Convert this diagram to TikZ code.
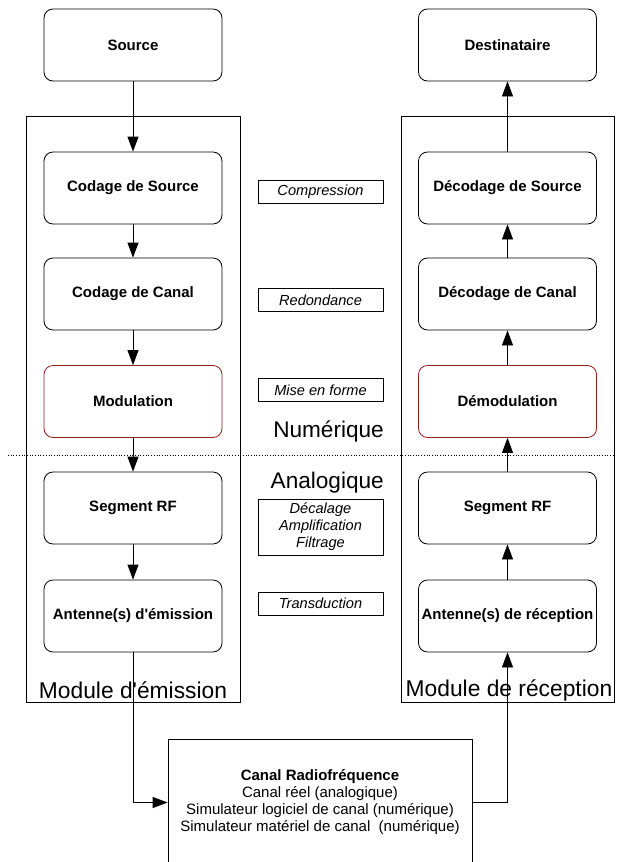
\documentclass[tikz,border=0pt]{standalone}
\usepackage{fontspec}
\setmainfont{Liberation Sans}[Ligatures=TeXOff]
\usetikzlibrary{arrows.meta}
\definecolor{modred}{RGB}{150,30,30}
\begin{document}
\begin{tikzpicture}[x=1pt,y=-1pt,
  blk/.style={draw, line width=0.8pt, rounded corners=9pt, minimum width=178pt, minimum height=72pt, inner sep=0pt, font=\fontsize{15}{17}\selectfont\bfseries},
  redblk/.style={blk, draw=modred},
  lbl/.style={draw, line width=0.7pt, minimum width=125pt, minimum height=23pt, inner sep=1pt, font=\fontsize{14.6}{17}\selectfont\itshape, align=center},
  modrect/.style={draw, line width=0.8pt},
  big/.style={font=\fontsize{22.6}{24}\selectfont},
  bigm/.style={font=\fontsize{22.8}{25}\selectfont},
  arr/.style={line width=0.8pt, -{Triangle[length=15pt,width=11pt]}}
]
\clip (0,0) rectangle (621,862);
\fill[white] (0,0) rectangle (621,862);
% module frames
\draw[modrect] (26,116) rectangle (240,702);
\draw[modrect] (401,116) rectangle (614,702);
% dotted separator
\draw[line width=0.7pt, dotted] (8,455) -- (613,455);
% left chain
\node[blk] (src) at (133,45) {Source};
\node[blk] (cs) at (133,188) {Codage de Source};
\node[blk] (cc) at (133,294) {Codage de Canal};
\node[redblk] (mod) at (133,401.5) {Modulation};
\node[blk] (rfl) at (133,508) {Segment RF};
\node[blk] (ae) at (133,616) {Antenne(s) d'émission};
% right chain
\node[blk] (dst) at (507.5,45) {Destinataire};
\node[blk] (ds) at (507.5,188) {Décodage de Source};
\node[blk] (dc) at (507.5,294) {Décodage de Canal};
\node[redblk] (dem) at (507.5,401.5) {Démodulation};
\node[blk] (rfr) at (507.5,508) {Segment RF};
\node[blk] (ar) at (507.5,616) {Antenne(s) de réception};
% middle labels
\node[lbl] (l1) at (320.5,192) {Compression};
\node[lbl] (l2) at (320.5,300) {Redondance};
\node[lbl] (l3) at (320.5,390) {Mise en forme};
\node[lbl, minimum height=56pt, font=\fontsize{14.6}{17}\selectfont\itshape] (l4) at (320.5,527) {Décalage\\Amplification\\Filtrage};
\node[lbl] (l5) at (320.5,603.5) {Transduction};
\node[big, anchor=east, inner sep=0pt] (num) at (384,432) {Numérique};
\node[big, anchor=east, inner sep=0pt] (ana) at (384,483) {Analogique};
\node[bigm, inner sep=0pt] (me) at (133,690) {Module d'émission};
\node[bigm, inner sep=0pt] (mr) at (509,690) {Module de réception};
% canal
\node[draw, line width=0.8pt, minimum width=304pt, minimum height=127pt, align=center, font=\fontsize{15}{17}\selectfont] (can) at (320,802.5) {\textbf{Canal Radiofréquence}\\Canal réel (analogique)\\Simulateur logiciel de canal (numérique)\\Simulateur matériel de canal~~(numérique)};
% arrows left
\draw[arr] (src) -- (cs);
\draw[arr] (cs) -- (cc);
\draw[arr] (cc) -- (mod);
\draw[arr] (mod) -- (rfl);
\draw[arr] (rfl) -- (ae);
\draw[arr] (ae.south) |- (can.west);
% arrows right
\draw[arr] (can.east) -| (ar.south);
\draw[arr] (ar) -- (rfr);
\draw[arr] (rfr) -- (dem);
\draw[arr] (dem) -- (dc);
\draw[arr] (dc) -- (ds);
\draw[arr] (ds) -- (dst);
\end{tikzpicture}
\end{document}
